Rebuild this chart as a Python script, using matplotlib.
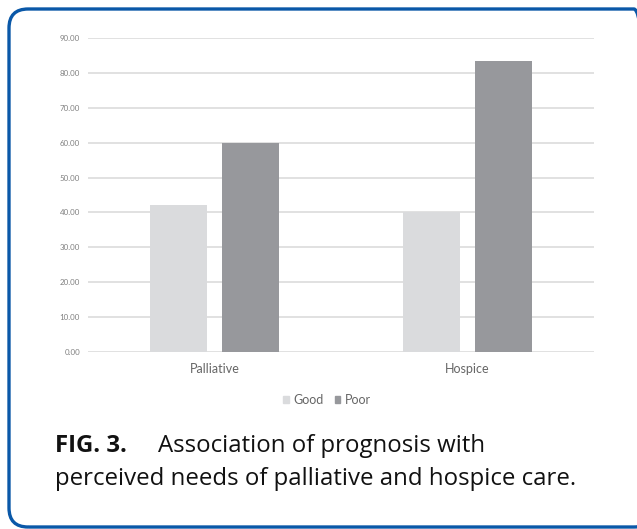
import matplotlib.pyplot as plt
from matplotlib.patches import FancyBboxPatch, Patch

# Percent reporting a perceived need, by prognosis
categories = ['Palliative', 'Hospice']
good = [42.1, 40.0]
poor = [60.0, 83.3]
yticks = [0, 10, 20, 30, 40, 50, 60, 70, 80, 90]

good_color = '#dadbdd'
poor_color = '#97989c'
grid_color = '#d9d9d9'

W, H = 637, 529
fig = plt.figure(figsize=(W / 100, H / 100), dpi=100)

# rounded blue frame around the figure panel
frame = FancyBboxPatch((9 / W, 1 - 527 / H), 644 / W, 518 / H,
                       boxstyle='round,pad=0,rounding_size=0.03',
                       transform=fig.transFigure, fill=False,
                       edgecolor='#0a58a8', linewidth=2.4, clip_on=False,
                       mutation_aspect=W / H)
fig.patches.append(frame)

ax = fig.add_axes([87.7 / W, 1 - 352.3 / H, 506.6 / W, 314.6 / H])

x = range(len(categories))
bw = 0.225
off = 0.142
ax.bar([i - off for i in x], good, width=bw, color=good_color, zorder=3)
ax.bar([i + off for i in x], poor, width=bw, color=poor_color, zorder=3)

ax.set_xlim(-0.5, 1.5)
ax.set_ylim(0, 90)
ax.set_yticks(yticks)
ax.set_yticklabels([f'{v:.2f}' for v in yticks], fontsize=5.7, color='#808080',
                   family='Lato')
ax.set_xticks(list(x))
ax.set_xticklabels(categories, fontsize=9, color='#666666', family='Lato')
ax.tick_params(axis='both', length=0)
ax.tick_params(axis='y', pad=5.5)
ax.tick_params(axis='x', pad=8)
ax.yaxis.grid(True, color=grid_color, linewidth=1.1, zorder=0)
ax.set_axisbelow(True)
for s in ax.spines.values():
    s.set_visible(False)

handles = [Patch(color=good_color, label='Good'), Patch(color=poor_color, label='Poor')]
fig.legend(handles=handles, loc='center', bbox_to_anchor=(327 / W, 1 - 400 / H),
           ncol=2, frameon=False, handlelength=0.45, handleheight=0.45,
           handletextpad=0.35, columnspacing=0.9,
           prop={'family': 'Lato', 'size': 9}, labelcolor='#666666')

# caption
fig.text(55 / W, 1 - 452 / H, 'FIG. 3.', fontsize=17.3, fontweight='bold',
         family='Open Sans', color='#111111')
fig.text(158 / W, 1 - 452 / H, 'Association of prognosis with', fontsize=17.3,
         family='Open Sans', color='#111111')
fig.text(55 / W, 1 - 485 / H, 'perceived needs of palliative and hospice care.',
         fontsize=17.3, family='Open Sans', color='#111111')

fig.savefig('out.png', dpi=100)
